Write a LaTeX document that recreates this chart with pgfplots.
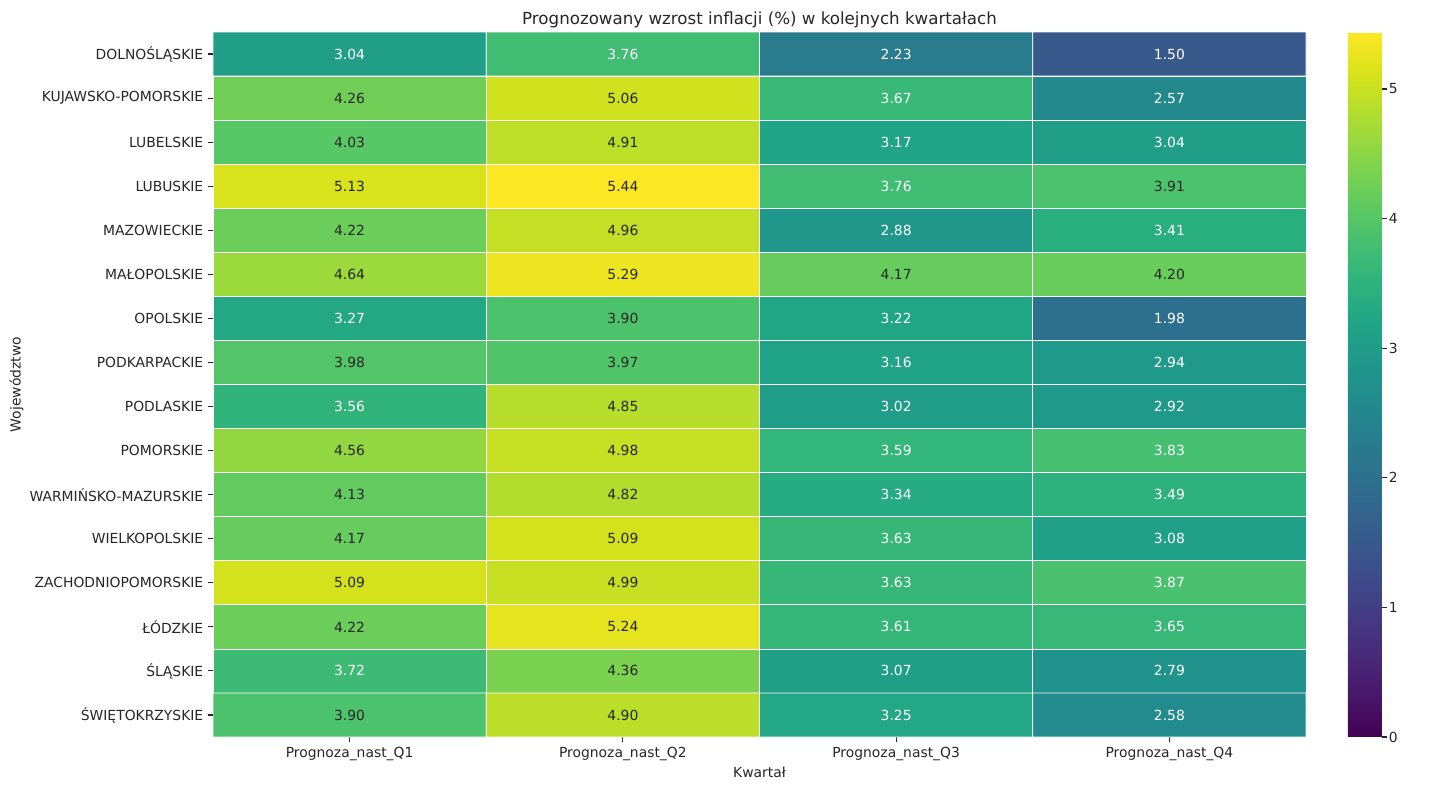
\documentclass[border=0pt]{standalone}
\usepackage{pgfplots}
\pgfplotsset{compat=1.18}
\usepackage{fontspec}
\setmainfont{DejaVu Sans}

\definecolor{tcd}{HTML}{262626}

% x = kwartal, y = wojewodztwo, v = wartosc, c = ciemny tekst (1) / bialy (0)
\pgfplotstableread{
x y v c
0 0 3.04 0
1 0 3.76 0
2 0 2.23 0
3 0 1.50 0
0 1 4.26 1
1 1 5.06 1
2 1 3.67 0
3 1 2.57 0
0 2 4.03 1
1 2 4.91 1
2 2 3.17 0
3 2 3.04 0
0 3 5.13 1
1 3 5.44 1
2 3 3.76 0
3 3 3.91 1
0 4 4.22 1
1 4 4.96 1
2 4 2.88 0
3 4 3.41 0
0 5 4.64 1
1 5 5.29 1
2 5 4.17 1
3 5 4.20 1
0 6 3.27 0
1 6 3.90 1
2 6 3.22 0
3 6 1.98 0
0 7 3.98 1
1 7 3.97 1
2 7 3.16 0
3 7 2.94 0
0 8 3.56 0
1 8 4.85 1
2 8 3.02 0
3 8 2.92 0
0 9 4.56 1
1 9 4.98 1
2 9 3.59 0
3 9 3.83 0
0 10 4.13 1
1 10 4.82 1
2 10 3.34 0
3 10 3.49 0
0 11 4.17 1
1 11 5.09 1
2 11 3.63 0
3 11 3.08 0
0 12 5.09 1
1 12 4.99 1
2 12 3.63 0
3 12 3.87 0
0 13 4.22 1
1 13 5.24 1
2 13 3.61 0
3 13 3.65 0
0 14 3.72 0
1 14 4.36 1
2 14 3.07 0
3 14 2.79 0
0 15 3.90 1
1 15 4.90 1
2 15 3.25 0
3 15 2.58 0
}\heat

\begin{document}
\begin{tikzpicture}
\useasboundingbox (0,0) rectangle (1035.36pt,-568.8pt);
\begin{axis}[
    at={(153.36pt,-23.04pt)}, anchor=north west,
    scale only axis,
    width=786.96pt, height=507.6pt,
    xmin=-0.5, xmax=3.5, ymin=-0.5, ymax=15.5,
    y dir=reverse,
    axis line style={draw=none},
    tick align=outside,
    major tick length=3.5pt,
    tick style={tcd, line width=0.8pt},
    xtick pos=bottom, ytick pos=left,
    xtick={0,...,3},
    xticklabels={Prognoza\_nast\_Q1, Prognoza\_nast\_Q2, Prognoza\_nast\_Q3, Prognoza\_nast\_Q4},
    ytick={0,...,15},
    yticklabels={DOLNOŚLĄSKIE, KUJAWSKO-POMORSKIE, LUBELSKIE, LUBUSKIE, MAZOWIECKIE, MAŁOPOLSKIE, OPOLSKIE, PODKARPACKIE, PODLASKIE, POMORSKIE, WARMIŃSKO-MAZURSKIE, WIELKOPOLSKIE, ZACHODNIOPOMORSKIE, ŁÓDZKIE, ŚLĄSKIE, ŚWIĘTOKRZYSKIE},
    ticklabel style={font=\fontsize{10}{12}\selectfont, text=tcd},
    xlabel={Kwartał},
    ylabel={Województwo},
    label style={font=\fontsize{10}{12}\selectfont, text=tcd},
    xlabel style={yshift=2pt},
    ylabel style={yshift=-2.5pt},
    title={Prognozowany wzrost inflacji (\%) w kolejnych kwartałach},
    title style={font=\fontsize{12}{14}\selectfont, text=tcd, yshift=-6.8pt},
    colormap/viridis,
    point meta min=0, point meta max=5.44,
    colorbar,
    colorbar/width=24.48pt,
    colorbar style={
        at={(parent axis.north east)}, anchor=north west,
        xshift=21.6pt,
        ytick={0,...,5},
        ytick pos=right,
        yticklabel pos=right,
        yticklabel style={xshift=-2pt},
        axis line style={draw=none},
        tick align=outside,
        major tick length=3.5pt,
        tick style={tcd, line width=0.8pt},
        ticklabel style={font=\fontsize{10}{12}\selectfont, text=tcd},
        /pgf/number format/assume math mode=true,
    },
    /pgf/number format/assume math mode=true,
]
\addplot[matrix plot*, mesh/cols=4, point meta=explicit, draw=white, line width=0.5pt]
    table[x=x, y=y, meta=v] {\heat};
% biale etykiety
\addplot[only marks, mark=none, point meta=explicit symbolic,
    x filter/.expression={\thisrow{c}==0 ? x : nan},
    nodes near coords,
    nodes near coords style={anchor=center, font=\fontsize{10}{12}\selectfont, text=white}]
    table[x=x, y=y, meta=v] {\heat};
% ciemne etykiety
\addplot[only marks, mark=none, point meta=explicit symbolic,
    x filter/.expression={\thisrow{c}==1 ? x : nan},
    nodes near coords,
    nodes near coords style={anchor=center, font=\fontsize{10}{12}\selectfont, text=tcd}]
    table[x=x, y=y, meta=v] {\heat};
\end{axis}
\end{tikzpicture}
\end{document}
